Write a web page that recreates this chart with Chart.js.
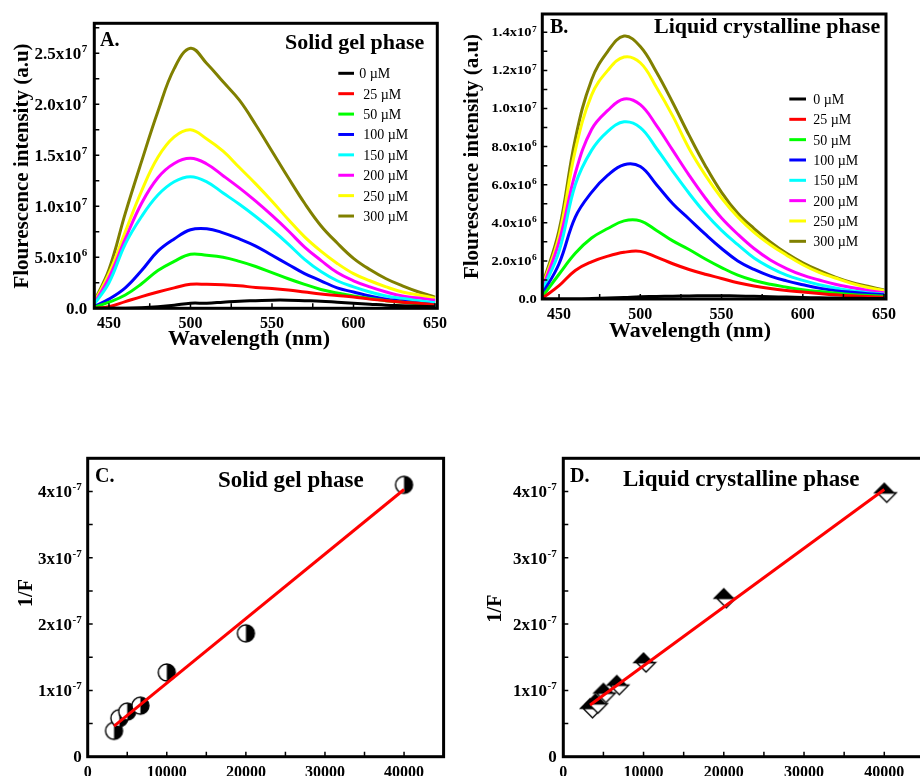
<!DOCTYPE html>
<html>
<head>
<meta charset="utf-8">
<script src="https://cdn.jsdelivr.net/npm/chart.js"></script>
<style>
  html, body { margin: 0; padding: 0; background: #fff; width: 920px; height: 776px; overflow: hidden; position: relative; }
  canvas { position: absolute; display: block; }
</style>
</head>
<body>
<canvas id="chartA" width="450" height="350" style="left:0;top:0"></canvas>
<canvas id="chartB" width="470" height="350" style="left:450px;top:0"></canvas>
<canvas id="chartC" width="460" height="336" style="left:0;top:440px"></canvas>
<canvas id="chartD" width="480" height="336" style="left:460px;top:440px"></canvas>
<script>
// emission wavelengths (nm)
const wavelength = [440, 450, 460, 470, 480, 490, 500, 510, 520, 530, 540, 550, 560, 570, 580, 590, 600, 610, 620, 630, 640, 650];
const concLabels = ["0 µM", "25 µM", "50 µM", "100 µM", "150 µM", "200 µM", "250 µM", "300 µM"];
const concColors = ["#000000", "#ff0000", "#00ff00", "#0000ff", "#00ffff", "#ff00ff", "#ffff00", "#808000"];

// solid gel phase, intensity in 1e6 a.u.
const gel0   = [0, 0, 0, 0.05, 0.15, 0.3, 0.5, 0.5, 0.6, 0.7, 0.75, 0.8, 0.8, 0.75, 0.7, 0.6, 0.5, 0.4, 0.3, 0.25, 0.2, 0.15];
const gel25  = [0, 0.15, 0.65, 1.15, 1.6, 2.0, 2.35, 2.35, 2.3, 2.2, 2.05, 1.95, 1.8, 1.6, 1.4, 1.25, 1.1, 0.9, 0.75, 0.6, 0.5, 0.33];
const gel50  = [0.05, 0.6, 1.3, 2.4, 3.7, 4.6, 5.3, 5.2, 5.0, 4.6, 4.1, 3.5, 2.9, 2.35, 1.85, 1.5, 1.2, 0.95, 0.75, 0.6, 0.45, 0.3];
const gel100 = [0.1, 0.9, 2.0, 3.7, 5.6, 6.8, 7.7, 7.8, 7.4, 6.8, 6.1, 5.2, 4.3, 3.4, 2.7, 2.0, 1.6, 1.2, 0.9, 0.7, 0.5, 0.35];
const gel150 = [0.2, 2.5, 6.3, 9.0, 11.1, 12.4, 12.9, 12.4, 11.3, 10.2, 9.0, 7.7, 6.3, 4.8, 3.6, 2.7, 2.1, 1.6, 1.2, 0.95, 0.75, 0.55];
const gel200 = [0.2, 3.0, 6.8, 10.3, 12.8, 14.2, 14.7, 14.15, 13.0, 11.8, 10.5, 9.1, 7.6, 6.0, 4.7, 3.5, 2.7, 2.1, 1.6, 1.2, 1.0, 0.8];
const gel250 = [0.3, 3.4, 7.5, 11.5, 14.8, 16.8, 17.5, 16.6, 15.4, 13.8, 12.2, 10.5, 8.7, 7.0, 5.6, 4.4, 3.4, 2.7, 2.1, 1.6, 1.3, 1.0];
const gel300 = [0.4, 3.8, 9.3, 14.4, 19.3, 23.5, 25.5, 24.0, 22.2, 20.4, 18.0, 15.4, 12.8, 10.3, 8.1, 6.4, 4.9, 3.8, 2.9, 2.2, 1.6, 1.1];

// liquid crystalline phase, intensity in 1e6 a.u.
const lc0   = [0, 0, 0, 0.02, 0.05, 0.08, 0.12, 0.13, 0.15, 0.16, 0.17, 0.17, 0.16, 0.14, 0.12, 0.1, 0.08, 0.06, 0.05, 0.04, 0.03, 0.02];
const lc25  = [0.05, 0.7, 1.5, 1.95, 2.25, 2.45, 2.5, 2.2, 1.85, 1.55, 1.3, 1.08, 0.85, 0.68, 0.55, 0.45, 0.37, 0.29, 0.22, 0.17, 0.13, 0.09];
const lc50  = [0.15, 1.3, 2.4, 3.2, 3.7, 4.1, 4.1, 3.6, 3.05, 2.6, 2.1, 1.65, 1.25, 0.97, 0.77, 0.62, 0.49, 0.39, 0.31, 0.24, 0.19, 0.15];
const lc100 = [0.3, 1.85, 4.3, 5.6, 6.5, 7.05, 6.95, 6.0, 5.0, 4.2, 3.4, 2.65, 2.0, 1.55, 1.2, 0.95, 0.75, 0.57, 0.44, 0.35, 0.28, 0.22];
const lc150 = [0.5, 2.5, 6.0, 7.8, 8.8, 9.3, 9.0, 7.9, 6.7, 5.55, 4.5, 3.6, 2.85, 2.15, 1.65, 1.25, 0.98, 0.75, 0.58, 0.44, 0.33, 0.25];
const lc200 = [0.6, 3.0, 6.6, 8.9, 9.9, 10.5, 10.2, 9.1, 7.8, 6.5, 5.3, 4.25, 3.4, 2.65, 2.05, 1.6, 1.25, 1.0, 0.77, 0.6, 0.45, 0.33];
const lc250 = [0.7, 3.3, 7.8, 10.7, 12.0, 12.7, 12.4, 11.1, 9.6, 7.9, 6.5, 5.3, 4.3, 3.5, 2.85, 2.3, 1.8, 1.4, 1.1, 0.82, 0.6, 0.44];
const lc300 = [0.8, 3.6, 8.4, 11.5, 13.0, 13.8, 13.25, 11.9, 10.3, 8.6, 7.0, 5.6, 4.5, 3.7, 3.0, 2.4, 1.9, 1.5, 1.15, 0.87, 0.67, 0.47];

// double reciprocal data: 1/[Q] (M^-1) against 1/F (1e-7)
const invConc = [3333, 4000, 5000, 6667, 10000, 20000, 40000];
const gelInvF = [0.39, 0.58, 0.68, 0.77, 1.27, 1.86, 4.10];
const lcInvF  = [0.73, 0.80, 0.96, 1.08, 1.42, 2.39, 3.98];
const fitX = [3333, 40000];
const gelFitY = [0.46, 4.03];
const lcFitY  = [0.78, 4.03];

// axis ticks
const wlTicks = [450, 500, 550, 600, 650];
const gelYTicks = [0, 5, 10, 15, 20, 25];
const gelYText = ["0.0", "5.0x10^6", "1.0x10^7", "1.5x10^7", "2.0x10^7", "2.5x10^7"];
const lcYTicks = [0, 2, 4, 6, 8, 10, 12, 14];
const lcYText = ["0.0", "2.0x10^6", "4.0x10^6", "6.0x10^6", "8.0x10^6", "1.0x10^7", "1.2x10^7", "1.4x10^7"];
const invConcTicks = [0, 10000, 20000, 30000, 40000];
const invFTicks = [0, 1, 2, 3, 4];
const invFText = ["0", "1x10^-7", "2x10^-7", "3x10^-7", "4x10^-7"];

const SERIF = '"Liberation Serif", "Times New Roman", serif';

// frame, inward ticks, tick labels with superscripts, legend and panel text
const decor = {
    id: "decor",
    afterDatasetsDraw(chart, args, o) {
        const { ctx, chartArea: a } = chart;
        const xs = chart.scales.x, ys = chart.scales.y;
        ctx.save();
        ctx.strokeStyle = "#000";
        ctx.fillStyle = "#000";

        ctx.lineWidth = 1.5;
        ctx.beginPath();
        for (let v = Math.ceil(xs.min / o.xMinor) * o.xMinor; v <= xs.max + 1e-9; v += o.xMinor) {
            const px = xs.getPixelForValue(v);
            ctx.moveTo(px, a.bottom);
            ctx.lineTo(px, a.bottom - 5);
        }
        for (let v = Math.ceil(ys.min / o.yMinor) * o.yMinor; v <= ys.max + 1e-9; v += o.yMinor) {
            const py = ys.getPixelForValue(v);
            ctx.moveTo(a.left, py);
            ctx.lineTo(a.left + 5, py);
        }
        ctx.stroke();

        ctx.lineWidth = 3;
        ctx.strokeRect(a.left, a.top, a.right - a.left, a.bottom - a.top);

        // y tick labels, right aligned, exponent raised
        ctx.textBaseline = "alphabetic";
        ctx.textAlign = "left";
        const sv = o.ySquash || 1;
        ys.ticks.forEach((t, i) => {
            const py = ys.getPixelForValue(t.value);
            const [base, exp] = o.yText[i].split("^");
            ctx.font = `bold ${o.yFont}px ${SERIF}`;
            const bw = ctx.measureText(base).width;
            ctx.font = `bold ${o.yExpFont}px ${SERIF}`;
            const ew = exp ? ctx.measureText(exp).width + 0.5 : 0;
            const xr = a.left - o.yGap;
            ctx.save();
            ctx.translate(0, py);
            ctx.scale(1, sv);
            const yb = o.yFont * 0.34;
            ctx.font = `bold ${o.yFont}px ${SERIF}`;
            ctx.fillText(base, xr - ew - bw, yb);
            if (exp) {
                ctx.font = `bold ${o.yExpFont}px ${SERIF}`;
                ctx.fillText(exp, xr - ew + 0.5, yb - o.yFont * 0.4);
            }
            ctx.restore();
        });

        // x tick labels
        ctx.textAlign = "center";
        ctx.font = `bold ${o.xFont}px ${SERIF}`;
        xs.ticks.forEach(t => {
            ctx.fillText(String(t.value), xs.getPixelForValue(t.value), o.xBase);
        });

        // legend
        if (o.legend) {
            const L = o.legend;
            ctx.textAlign = "left";
            ctx.font = `14px ${SERIF}`;
            ctx.lineWidth = 3;
            chart.data.datasets.forEach((ds, i) => {
                const y = L.y0 + i * L.dy;
                ctx.strokeStyle = ds.borderColor;
                ctx.beginPath();
                ctx.moveTo(L.x0, y);
                ctx.lineTo(L.x1, y);
                ctx.stroke();
                const tx = L.textX - (i === 0 ? L.firstShift : 0);
                ctx.fillText(ds.label, tx, y + 5);
            });
        }

        // panel letters, headings, axis titles
        o.texts.forEach(t => {
            ctx.font = `bold ${t.size}px ${SERIF}`;
            ctx.textAlign = t.align || "left";
            if (t.rot) {
                ctx.save();
                ctx.translate(t.x, t.y);
                ctx.rotate(-Math.PI / 2);
                ctx.textAlign = "center";
                ctx.fillText(t.text, 0, 0);
                ctx.restore();
            } else {
                ctx.fillText(t.text, t.x, t.y);
            }
        });
        ctx.restore();
    }
};

function baseOptions(cv, area, x, y, decorOpts) {
    return {
        responsive: false,
        animation: false,
        events: [],
        layout: { padding: { top: area.top, right: cv.width - area.right, left: 0, bottom: 0 } },
        plugins: { legend: { display: false }, tooltip: { enabled: false }, decor: decorOpts },
        scales: {
            x: {
                type: "linear", min: x.min, max: x.max,
                afterBuildTicks: s => { s.ticks = x.ticks.map(v => ({ value: v })); },
                afterFit: s => { s.height = cv.height - area.bottom; },
                ticks: { display: false },
                grid: { display: false, drawTicks: false },
                border: { display: false }
            },
            y: {
                type: "linear", min: y.min, max: y.max,
                afterBuildTicks: s => { s.ticks = y.ticks.map(v => ({ value: v })); },
                afterFit: s => { s.width = area.left; },
                ticks: { display: false },
                grid: { display: false, drawTicks: false },
                border: { display: false }
            }
        }
    };
}

function spectraChart(id, series, area, x, y, decorOpts) {
    const cv = document.getElementById(id);
    return new Chart(cv, {
        type: "line",
        data: {
            datasets: series.map((vals, i) => ({
                label: concLabels[i],
                data: wavelength.map((w, k) => ({ x: w, y: vals[k] })),
                borderColor: concColors[i],
                borderWidth: 3,
                pointRadius: 0,
                fill: false,
                tension: 0.4
            }))
        },
        options: baseOptions(cv, area, x, y, decorOpts),
        plugins: [decor]
    });
}

function halfCircle(r) {
    const c = document.createElement("canvas");
    const s = Math.ceil(2 * r + 4);
    c.width = c.height = s;
    const g = c.getContext("2d");
    const m = s / 2;
    g.fillStyle = "#fff";
    g.beginPath(); g.arc(m, m, r, 0, 2 * Math.PI); g.fill();
    g.fillStyle = "#000";
    g.beginPath(); g.arc(m, m, r, -Math.PI / 2, Math.PI / 2); g.closePath(); g.fill();
    g.strokeStyle = "#000"; g.lineWidth = 1.4;
    g.beginPath(); g.arc(m, m, r, 0, 2 * Math.PI); g.stroke();
    return c;
}

// black upper triangle over a white lower one that sits a little to the right
function halfDiamond(w, h, shift) {
    const c = document.createElement("canvas");
    c.width = Math.ceil(2 * w + 2 * shift + 4);
    c.height = Math.ceil(2 * h + 4);
    const g = c.getContext("2d");
    const mx = c.width / 2, my = c.height / 2;
    g.lineWidth = 1.3;
    g.strokeStyle = "#000";
    g.fillStyle = "#fff";
    g.beginPath(); g.moveTo(mx - w + shift, my); g.lineTo(mx + shift, my + h); g.lineTo(mx + w + shift, my); g.closePath();
    g.fill(); g.stroke();
    g.fillStyle = "#000";
    g.beginPath(); g.moveTo(mx - w, my); g.lineTo(mx, my - h); g.lineTo(mx + w, my); g.closePath();
    g.fill(); g.stroke();
    return c;
}

function reciprocalChart(id, invF, fitY, marker, area, decorOpts) {
    const cv = document.getElementById(id);
    return new Chart(cv, {
        type: "scatter",
        data: {
            datasets: [
                {
                    label: "fit",
                    data: fitX.map((v, k) => ({ x: v, y: fitY[k] })),
                    showLine: true,
                    borderColor: "#ff0000",
                    borderWidth: 3,
                    pointRadius: 0
                },
                {
                    label: "1/F",
                    data: invConc.map((v, k) => ({ x: v, y: invF[k] })),
                    pointStyle: marker,
                    pointRadius: 9
                }
            ]
        },
        options: baseOptions(cv, area,
            { min: 0, max: 45000, ticks: invConcTicks },
            { min: 0, max: 4.5, ticks: invFTicks },
            decorOpts),
        plugins: [decor]
    });
}

spectraChart("chartA",
    [gel0, gel25, gel50, gel100, gel150, gel200, gel250, gel300],
    { left: 94.3, top: 23.3, right: 437.3, bottom: 308.3 },
    { min: 441, max: 651.4, ticks: wlTicks },
    { min: 0, max: 27.94, ticks: gelYTicks },
    {
        xMinor: 25, yMinor: 2.5,
        yText: gelYText, yFont: 17, yExpFont: 11, yGap: 7,
        xFont: 16, xBase: 328,
        legend: { x0: 338.3, x1: 354, textX: 363.3, firstShift: 4, y0: 73.3, dy: 20.39 },
        texts: [
            { text: "A.", x: 100, y: 46, size: 20 },
            { text: "Solid gel phase", x: 285, y: 49, size: 22 },
            { text: "Wavelength (nm)", x: 249, y: 345, size: 22, align: "center" },
            { text: "Flourescence intensity (a.u)", x: 27.5, y: 166, size: 21, rot: true }
        ]
    });

spectraChart("chartB",
    [lc0, lc25, lc50, lc100, lc150, lc200, lc250, lc300],
    { left: 92.3, top: 14, right: 436, bottom: 299 },
    { min: 439.7, max: 651.2, ticks: wlTicks },
    { min: 0, max: 14.96, ticks: lcYTicks },
    {
        xMinor: 25, yMinor: 1,
        yText: lcYText, yFont: 14.5, yExpFont: 9.5, yGap: 5.6, ySquash: 0.8,
        xFont: 16, xBase: 319.3,
        legend: { x0: 339.3, x1: 356, textX: 363.3, firstShift: 0, y0: 99, dy: 20.33 },
        texts: [
            { text: "B.", x: 100, y: 33, size: 20 },
            { text: "Liquid crystalline phase", x: 204, y: 33, size: 22 },
            { text: "Wavelength (nm)", x: 240, y: 336.7, size: 22, align: "center" },
            { text: "Flourescence intensity (a.u)", x: 27.5, y: 156.5, size: 21, rot: true }
        ]
    });

reciprocalChart("chartC", gelInvF, gelFitY, halfCircle(8.5),
    { left: 87.7, top: 18.3, right: 443.6, bottom: 316.7 },
    {
        xMinor: 5000, yMinor: 0.5,
        yText: invFText, yFont: 17, yExpFont: 11, yGap: 6,
        xFont: 16, xBase: 337,
        texts: [
            { text: "C.", x: 95, y: 42, size: 20 },
            { text: "Solid gel phase", x: 218, y: 47, size: 23 },
            { text: "1/F", x: 32, y: 153, size: 20, rot: true }
        ]
    });

reciprocalChart("chartD", lcInvF, lcFitY, halfDiamond(9.5, 9.5, 2.5),
    { left: 103.3, top: 18.3, right: 464.4, bottom: 316.7 },
    {
        xMinor: 5000, yMinor: 0.5,
        yText: invFText, yFont: 17, yExpFont: 11, yGap: 6.6,
        xFont: 16, xBase: 337,
        texts: [
            { text: "D.", x: 110, y: 42, size: 20 },
            { text: "Liquid crystalline phase", x: 163, y: 46, size: 23 },
            { text: "1/F", x: 41, y: 168.5, size: 20, rot: true }
        ]
    });
</script>
</body>
</html>
